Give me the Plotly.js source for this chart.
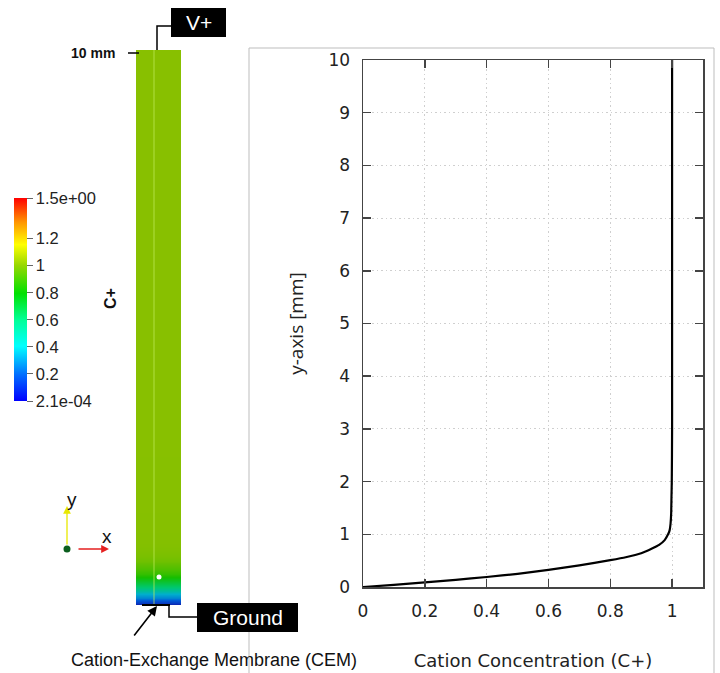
<!DOCTYPE html>
<html>
<head>
<meta charset="utf-8">
<script src="https://cdn.plot.ly/plotly-3.0.1.min.js"></script>
<style>html,body{margin:0;padding:0;background:#fff;}#chart{width:720px;height:673px;}</style>
</head>
<body>
<div id="chart"></div>
<script>
// ---- data ----
const yPosition = [0, 0.04, 0.0875, 0.135, 0.19, 0.25, 0.325, 0.41, 0.51, 0.565, 0.64, 0.73, 0.8, 0.89, 1.0, 1.075, 1.2, 1.39, 1.7, 2.0, 3, 4, 5, 6, 7, 8, 9, 10];
const cationConc = [0, 0.1, 0.2, 0.3, 0.4, 0.5, 0.6, 0.7, 0.8, 0.85, 0.9, 0.935, 0.958, 0.976, 0.987, 0.992, 0.995, 0.997, 0.998, 0.999, 1, 1, 1, 1, 1, 1, 1, 1];
const colorMin = 0.00021;
const colorMax = 1.5;
const cbTickVals = [0.00021, 0.2, 0.4, 0.6, 0.8, 1, 1.2, 1.5];
const cbTickText = ['2.1e-04', '0.2', '0.4', '0.6', '0.8', '1', '1.2', '1.5e+00'];
const xTickVals = [0, 0.2, 0.4, 0.6, 0.8, 1];
const yTickVals = [0, 1, 2, 3, 4, 5, 6, 7, 8, 9, 10];

// ---- helpers (pixel -> paper) ----
const W = 720, H = 673;
const px = x => x / W;
const py = y => 1 - y / H;

const brightScale = [[0,'rgb(0,0,255)'],[0.13,'rgb(0,110,255)'],[0.27,'rgb(0,255,255)'],[0.4,'rgb(0,255,150)'],[0.53,'rgb(0,225,0)'],[0.667,'rgb(150,215,0)'],[0.77,'rgb(255,255,0)'],[0.88,'rgb(255,150,0)'],[1,'rgb(255,0,0)']];
const barScale = [[0,'rgb(15,25,170)'],[0.13,'rgb(0,90,215)'],[0.27,'rgb(0,175,205)'],[0.4,'rgb(0,200,110)'],[0.53,'rgb(20,190,0)'],[0.667,'rgb(136,192,0)'],[0.77,'rgb(220,220,0)'],[0.88,'rgb(220,130,0)'],[1,'rgb(220,0,0)']];

const zCols = cationConc.map(c => [c, c]);

const traces = [
  { // carries the colour bar
    type: 'heatmap', x: [0, 1], y: yPosition, z: zCols,
    xaxis: 'x2', yaxis: 'y2', zsmooth: 'best',
    colorscale: brightScale, zmin: colorMin, zmax: colorMax,
    hoverinfo: 'skip',
    colorbar: {
      x: px(14), xanchor: 'left', xpad: 0,
      y: py(198), yanchor: 'top', ypad: 0,
      lenmode: 'pixels', len: 203,
      thicknessmode: 'pixels', thickness: 13,
      outlinewidth: 0,
      tickmode: 'array', tickvals: cbTickVals, ticktext: cbTickText,
      ticks: 'outside', ticklen: 6, tickcolor: '#666', tickwidth: 1,
      tickfont: {family: 'Liberation Sans, Arial', size: 16.5, color: '#222'}
    }
  },
  { // the membrane column
    type: 'heatmap', x: [0, 1], y: yPosition, z: zCols,
    xaxis: 'x2', yaxis: 'y2', zsmooth: 'best',
    colorscale: barScale, zmin: colorMin, zmax: colorMax,
    showscale: false, hoverinfo: 'skip'
  },
  { // profile curve
    type: 'scatter', mode: 'lines', x: cationConc, y: yPosition,
    line: {color: '#000', width: 2.2, shape: 'spline', smoothing: 0.6},
    xaxis: 'x', yaxis: 'y', showlegend: false
  }
];

const tickFont = {family: 'DejaVu Sans', size: 17, color: '#222'};

const layout = {
  width: W, height: H,
  margin: {l: 0, r: 0, t: 0, b: 0},
  paper_bgcolor: '#fff', plot_bgcolor: '#fff',
  showlegend: false,
  xaxis: {
    domain: [px(363), px(703)], range: [0, 1.1],
    tickvals: xTickVals, ticks: 'inside', ticklen: 8, tickcolor: '#444', tickwidth: 1.5,
    mirror: 'ticks', showline: true, linecolor: '#444', linewidth: 1.5,
    showgrid: true, gridcolor: '#cfcfcf', griddash: '1.5px,3px', gridwidth: 1,
    zeroline: false, tickfont: tickFont, ticklabelstandoff: 8,
    title: {text: 'Cation Concentration (C+)', font: {family: 'DejaVu Sans', size: 18, color: '#222'}, standoff: 34},
    automargin: false
  },
  yaxis: {
    domain: [py(587), py(60)], range: [0, 10],
    tickvals: yTickVals, ticks: 'inside', ticklen: 8, tickcolor: '#444', tickwidth: 1.5,
    mirror: 'ticks', showline: true, linecolor: '#444', linewidth: 1.5,
    showgrid: true, gridcolor: '#cfcfcf', griddash: '1.5px,3px', gridwidth: 1,
    zeroline: false, tickfont: tickFont, ticklabelstandoff: 8,
    title: {text: 'y-axis [mm]', font: {family: 'Open Sans', size: 19, color: '#222'}, standoff: 20},
    automargin: false
  },
  xaxis2: {domain: [px(136), px(181)], range: [0, 1], visible: false, fixedrange: true},
  yaxis2: {domain: [py(605), py(50)], range: [0, 10], visible: false, fixedrange: true},
  shapes: [
    // right panel frame
    {type: 'rect', xref: 'paper', yref: 'paper', x0: px(249), x1: px(714), y0: py(680), y1: py(48), line: {color: '#bdbdbd', width: 1}, layer: 'below'},
    // column centre line
    {type: 'line', xref: 'paper', yref: 'paper', x0: px(154), x1: px(154), y0: py(50), y1: py(605), line: {color: 'rgba(190,235,90,0.75)', width: 1}},
    // white point
    {type: 'circle', xref: 'paper', yref: 'paper', x0: px(156.5), x1: px(161.5), y0: py(579.5), y1: py(574.5), fillcolor: '#fff', line: {width: 0}},
    // 10 mm tick
    {type: 'line', xref: 'paper', yref: 'paper', x0: px(128), x1: px(139), y0: py(53), y1: py(53), line: {color: '#000', width: 1.5}},
    // V+ connector
    {type: 'path', xref: 'paper', yref: 'paper', path: `M ${px(171)} ${py(26)} L ${px(157)} ${py(26)} L ${px(157)} ${py(50)}`, line: {color: '#000', width: 1.5}},
    // V+ box
    {type: 'rect', xref: 'paper', yref: 'paper', x0: px(171), x1: px(226), y0: py(37), y1: py(8), fillcolor: '#000', line: {width: 0}},
    // membrane line
    {type: 'line', xref: 'paper', yref: 'paper', x0: px(142), x1: px(170), y0: py(605), y1: py(605), line: {color: '#000', width: 2}},
    // Ground connector
    {type: 'path', xref: 'paper', yref: 'paper', path: `M ${px(169)} ${py(605)} L ${px(169)} ${py(617)} L ${px(197)} ${py(617)}`, line: {color: '#000', width: 1.5}},
    // Ground box
    {type: 'rect', xref: 'paper', yref: 'paper', x0: px(197), x1: px(298), y0: py(632), y1: py(603), fillcolor: '#000', line: {width: 0}, layer: 'above'},
    // triad origin
    {type: 'circle', xref: 'paper', yref: 'paper', x0: px(63.5), x1: px(70.5), y0: py(552.5), y1: py(545.5), fillcolor: '#0b5e1e', line: {width: 0}}
  ],
  annotations: [
    {xref: 'paper', yref: 'paper', x: px(117), y: py(53), xanchor: 'right', yanchor: 'middle', showarrow: false,
     text: '<b>10 mm</b>', font: {family: 'Liberation Sans, Arial', size: 14, color: '#111'}},
    {xref: 'paper', yref: 'paper', x: px(198.5), y: py(22.5), xanchor: 'center', yanchor: 'middle', showarrow: false,
     text: 'V+', font: {family: 'Liberation Sans, Arial', size: 21, color: '#fff'}},
    {xref: 'paper', yref: 'paper', x: px(247.5), y: py(617.5), xanchor: 'center', yanchor: 'middle', showarrow: false,
     text: 'Ground', font: {family: 'Liberation Sans, Arial', size: 21, color: '#fff'}},
    {xref: 'paper', yref: 'paper', x: px(110), y: py(299), xanchor: 'center', yanchor: 'middle', showarrow: false, textangle: -90,
     text: '<b>C+</b>', font: {family: 'Liberation Sans, Arial', size: 16, color: '#111'}},
    {xref: 'paper', yref: 'paper', x: px(214), y: py(660), xanchor: 'center', yanchor: 'middle', showarrow: false,
     text: 'Cation-Exchange Membrane (CEM)', font: {family: 'Liberation Sans, Arial', size: 18, color: '#111'}},
    // CEM arrow
    {xref: 'paper', yref: 'paper', x: px(157), y: py(606), ax: -24, ay: 31, axref: 'pixel', ayref: 'pixel', text: '', showarrow: true,
     arrowhead: 2, arrowsize: 1.2, arrowwidth: 1.6, arrowcolor: '#000', standoff: 0, startstandoff: 0},
    // triad arrows
    {xref: 'paper', yref: 'paper', x: px(67), y: py(506), ax: 0, ay: 40, text: '', showarrow: true,
     arrowhead: 2, arrowsize: 1.2, arrowwidth: 1.3, arrowcolor: '#e8e800', standoff: 0, startstandoff: 0},
    {xref: 'paper', yref: 'paper', x: px(109), y: py(549), ax: -32, ay: 0, text: '', showarrow: true,
     arrowhead: 2, arrowsize: 1.2, arrowwidth: 1.3, arrowcolor: '#e52020', standoff: 0, startstandoff: 0},
    {xref: 'paper', yref: 'paper', x: px(72), y: py(499), xanchor: 'center', yanchor: 'middle', showarrow: false,
     text: 'y', font: {family: 'Liberation Sans, Arial', size: 19, color: '#111'}},
    {xref: 'paper', yref: 'paper', x: px(107), y: py(536), xanchor: 'center', yanchor: 'middle', showarrow: false,
     text: 'x', font: {family: 'Liberation Sans, Arial', size: 19, color: '#111'}}
  ]
};

Plotly.newPlot('chart', traces, layout, {staticPlot: true, displayModeBar: false});
</script>
</body>
</html>
